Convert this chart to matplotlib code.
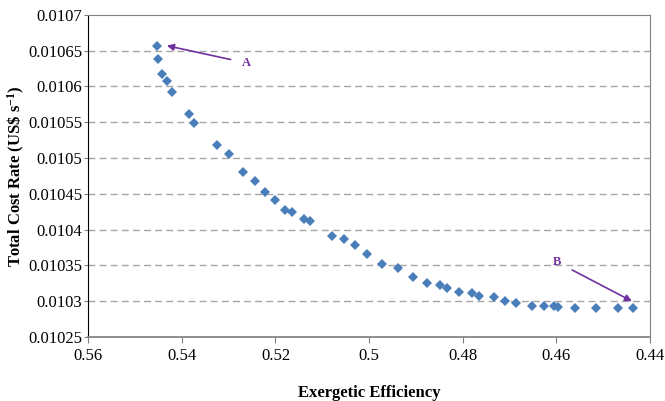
import matplotlib.pyplot as plt
from matplotlib.ticker import FuncFormatter

# Pareto front: exergetic efficiency vs total cost rate
efficiency = [0.5454, 0.5450, 0.5442, 0.5431, 0.5422, 0.5385, 0.5374, 0.5325,
              0.5299, 0.5270, 0.5244, 0.5223, 0.5200, 0.5180, 0.5165, 0.5140,
              0.5126, 0.5079, 0.5054, 0.5029, 0.5004, 0.4972, 0.4939, 0.4907,
              0.4876, 0.4849, 0.4833, 0.4808, 0.4780, 0.4765, 0.4732, 0.4710,
              0.4686, 0.4652, 0.4627, 0.4604, 0.4596, 0.4560, 0.4515, 0.4467,
              0.4436]
cost_rate = [0.010657, 0.010638, 0.010617, 0.010608, 0.010592, 0.010562,
             0.010549, 0.010518, 0.010505, 0.010480, 0.010468, 0.010453,
             0.010441, 0.010428, 0.010425, 0.010415, 0.010412, 0.010391,
             0.010387, 0.010378, 0.010366, 0.010352, 0.010346, 0.010334,
             0.010326, 0.010322, 0.010318, 0.010313, 0.010312, 0.010307,
             0.010306, 0.010300, 0.010297, 0.010294, 0.010294, 0.010294,
             0.010292, 0.010291, 0.010290, 0.010291, 0.010290]

x_ticks = [0.56, 0.54, 0.52, 0.50, 0.48, 0.46, 0.44]
y_ticks = [0.01025, 0.0103, 0.01035, 0.0104, 0.01045, 0.0105, 0.01055,
           0.0106, 0.01065, 0.0107]

plt.rcParams['font.family'] = ['Liberation Serif', 'DejaVu Serif']
plt.rcParams['mathtext.fontset'] = 'custom'
plt.rcParams['mathtext.rm'] = 'Liberation Serif:bold'
plt.rcParams['mathtext.default'] = 'rm'

fig = plt.figure(figsize=(6.65, 4.01), dpi=100)
ax = fig.add_axes([0.1328, 0.1596, 0.8442, 0.8032])

ax.plot(efficiency, cost_rate, linestyle='none', marker='D', ms=5,
        color='#4a7ebb', markeredgewidth=0, zorder=3)

ax.set_xlim(0.56, 0.44)
ax.set_ylim(0.01025, 0.0107)
ax.set_xticks(x_ticks)
ax.set_yticks(y_ticks)
ax.xaxis.set_major_formatter(FuncFormatter(lambda v, p: '%g' % round(v, 5)))
ax.yaxis.set_major_formatter(FuncFormatter(lambda v, p: '%g' % round(v, 6)))
ax.tick_params(labelsize=12, direction='out', color='#808080')
ax.tick_params(axis='x', length=4, pad=4)
ax.tick_params(axis='y', length=3, pad=1.5)

for y in y_ticks[1:-1]:
    ax.axhline(y, color='#a6a6a6', linestyle=(0, (5, 3)), linewidth=1, zorder=1)

ax.spines['left'].set_color('black')
ax.spines['bottom'].set_color('#868686')
ax.spines['bottom'].set_linewidth(1.3)
ax.spines['top'].set_color('#808080')
ax.spines['right'].set_color('#808080')

ax.set_xlabel('Exergetic Efficiency', fontsize=12, fontweight='bold', labelpad=15)
ax.set_ylabel('Total Cost Rate (US\\$ s$^{-1}$)', fontsize=12, fontweight='bold', labelpad=1)

purple = '#7030a0'
ax.annotate('A', xy=(0.5432, 0.010657), xytext=(0.5263, 0.010633),
            color=purple, fontsize=9, fontweight='bold', ha='center', va='center',
            arrowprops=dict(arrowstyle='-|>', color=purple, lw=1.2, shrinkA=6, shrinkB=0,
                            mutation_scale=10))
ax.annotate('B', xy=(0.4438, 0.010300), xytext=(0.4599, 0.010355),
            color=purple, fontsize=9, fontweight='bold', ha='center', va='center',
            arrowprops=dict(arrowstyle='-|>', color=purple, lw=1.2, shrinkA=7, shrinkB=0,
                            mutation_scale=10))

fig.savefig('out.png', dpi=100)
